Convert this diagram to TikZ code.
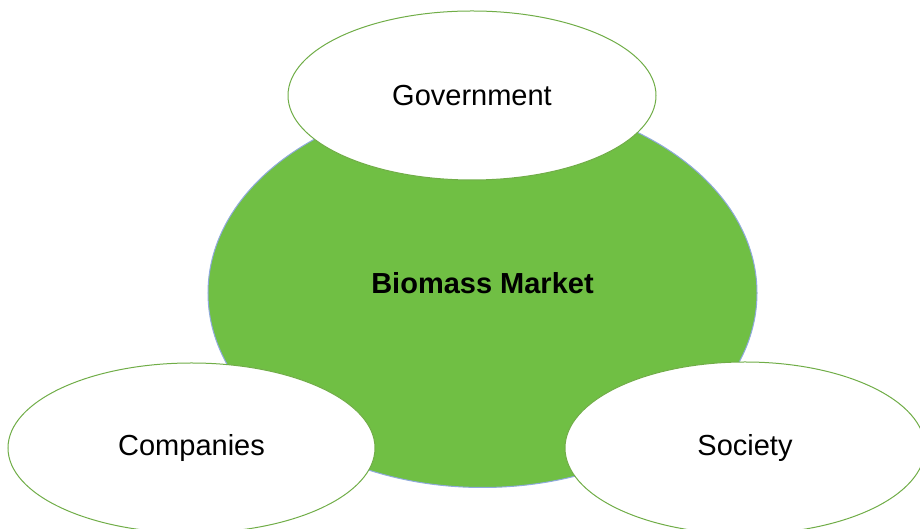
\documentclass[tikz,border=0pt]{standalone}
\usepackage{fontspec}
\setmainfont{Liberation Sans}
\usetikzlibrary{shapes.geometric}
\definecolor{mktgreen}{HTML}{70BF44}
\definecolor{rimblue}{HTML}{8FAADC}
\definecolor{rimgreen}{HTML}{70AD47}
\tikzset{
  actor/.style={ellipse, draw=rimgreen, line width=1bp, fill=white, inner sep=0pt,
    font=\fontsize{29bp}{34bp}\selectfont}
}
\begin{document}
\begin{tikzpicture}[x=1bp,y=1bp]
  \useasboundingbox (0,0) rectangle (920,529);
  \node[ellipse, fill=mktgreen, draw=rimblue, line width=1bp,
    minimum width=549bp, minimum height=389bp, inner sep=0pt,
    font=\fontsize{29bp}{34bp}\selectfont\bfseries] (market) at (482.5,236) {};
  \node[font=\fontsize{29bp}{34bp}\selectfont\bfseries] (marketlabel) at (482.5,246) {Biomass Market};
  \node[actor, minimum width=368bp, minimum height=169bp] (gov) at (472,433.5) {Government};
  \node[actor, minimum width=367bp, minimum height=170bp] (comp) at (191.5,81) {Companies};
  \node[actor, minimum width=360bp, minimum height=172bp] (soc) at (745,81) {Society};
\end{tikzpicture}
\end{document}
